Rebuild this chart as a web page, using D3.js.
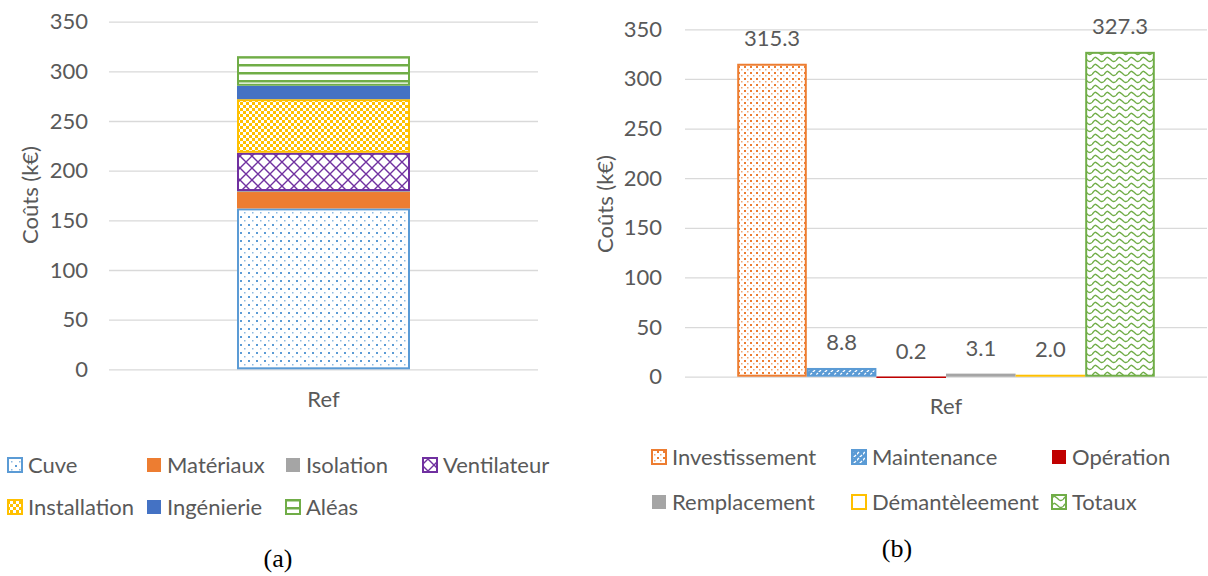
<!DOCTYPE html>
<html>
<head>
<meta charset="utf-8">
<script src="https://cdn.jsdelivr.net/npm/d3@7"></script>
<style>
  html, body { margin: 0; padding: 0; background: #fff; }
  svg { display: block; }
  text { font-family: Lato, "Open Sans", sans-serif; fill: #595959; }
  .caption { font-family: "Liberation Serif", "DejaVu Serif", serif; fill: #000; }
</style>
</head>
<body>
<svg id="chart" width="1208" height="576"></svg>
<script>
// --- data (a): stacked investment breakdown
const categories = ["Ref"];
const stackSeries = ["Cuve", "Matériaux", "Isolation", "Ventilateur", "Installation", "Ingénierie", "Aléas"];
const stackValues = [162, 16.5, 1, 38.5, 54, 13.5, 29.8];

// --- data (b): cost types
const costSeries = ["Investissement", "Maintenance", "Opération", "Remplacement", "Démantèleement", "Totaux"];
const costValues = [315.3, 8.8, 0.2, 3.1, 2.0, 327.3];

const yTicks = [0, 50, 100, 150, 200, 250, 300, 350];
const yDomain = [0, 350];

// styles
const stackColors = ["#5B9BD5", "#ED7D31", "#A5A5A5", "#7030A0", "#FFC000", "#4472C4", "#70AD47"];
const stackFills = ["url(#pDotsBlue)", "#ED7D31", "#A5A5A5", "url(#pTrellis)", "url(#pChecker)", "#4472C4", "url(#pHoriz)"];
const stackBorder = [true, false, false, true, true, false, true];

const costColors = ["#ED7D31", "#5B9BD5", "#C00000", "#A5A5A5", "#FFC000", "#70AD47"];
const costFills = ["url(#pDotsOrange)", "url(#pDiag)", "#C00000", "#A5A5A5", "#FFC000", "url(#pWave)"];
const costBorder = [true, true, false, false, false, true];

const svg = d3.select("#chart");
const defs = svg.append("defs");

// patterns
function pattern(id, w, h, draw) {
  const p = defs.append("pattern").attr("id", id)
    .attr("patternUnits", "userSpaceOnUse").attr("width", w).attr("height", h);
  draw(p);
}
pattern("pDotsBlue", 8, 8, p => {
  p.append("rect").attr("width", 8).attr("height", 8).attr("fill", "#fff");
  p.append("rect").attr("x", 0).attr("y", 0).attr("width", 2).attr("height", 2).attr("fill", "#5B9BD5");
  p.append("rect").attr("x", 4).attr("y", 4).attr("width", 1.5).attr("height", 1.5).attr("fill", "#5B9BD5").attr("opacity", 0.7);
});
pattern("pDotsOrange", 6, 6, p => {
  p.append("rect").attr("width", 6).attr("height", 6).attr("fill", "#fff");
  p.append("rect").attr("x", 0).attr("y", 0).attr("width", 2).attr("height", 2).attr("fill", "#ED7D31");
  p.append("rect").attr("x", 3).attr("y", 3).attr("width", 1.5).attr("height", 1.5).attr("fill", "#ED7D31").attr("opacity", 0.7);
});
pattern("pChecker", 6, 6, p => {
  p.append("rect").attr("width", 6).attr("height", 6).attr("fill", "#fff");
  p.append("rect").attr("width", 3).attr("height", 3).attr("fill", "#FFC000");
  p.append("rect").attr("x", 3).attr("y", 3).attr("width", 3).attr("height", 3).attr("fill", "#FFC000");
});
pattern("pTrellis", 12, 12, p => {
  p.append("rect").attr("width", 12).attr("height", 12).attr("fill", "#fff");
  p.append("path").attr("d", "M0,0L12,12M12,0L0,12").attr("stroke", "#7030A0").attr("stroke-width", 1.4).attr("fill", "none");
});
pattern("pHoriz", 8, 8, p => {
  p.append("rect").attr("width", 8).attr("height", 8).attr("fill", "#fff");
  p.append("rect").attr("y", 0).attr("width", 8).attr("height", 2.5).attr("fill", "#70AD47");
});
pattern("pDiag", 6, 6, p => {
  p.append("rect").attr("width", 6).attr("height", 6).attr("fill", "#5B9BD5");
  p.append("path").attr("d", "M-1,4L2,1M2,7L5,4").attr("stroke", "#fff").attr("stroke-width", 1.3);
});
pattern("pWave", 12, 7, p => {
  p.append("rect").attr("width", 12).attr("height", 7).attr("fill", "#fff");
  p.append("path").attr("d", "M0,4.5C3,0.5 3,0.5 6,3S9,6.5 12,4.5").attr("stroke", "#70AD47").attr("stroke-width", 1.4).attr("fill", "none");
});

// generic grid + y axis
function drawYAxis(g, y, x0, x1, pad) {
  const ax = g.append("g").attr("transform", `translate(${x0},0)`)
    .call(d3.axisLeft(y).tickValues(yTicks).tickSize(-(x1 - x0)).tickPadding(pad));
  ax.select(".domain").remove();
  ax.selectAll(".tick line").attr("stroke", "#d9d9d9").attr("stroke-width", 1.3);
  ax.selectAll(".tick text").attr("font-size", 22).attr("fill", "#595959")
    .style("font-family", "Lato, sans-serif");
}
function drawXAxis(g, x, y0, pad) {
  const ax = g.append("g").attr("transform", `translate(0,${y0})`)
    .call(d3.axisBottom(x).tickSize(0).tickPadding(pad));
  ax.select(".domain").remove();
  ax.selectAll(".tick text").attr("font-size", 22).attr("fill", "#595959")
    .style("font-family", "Lato, sans-serif");
}
function yTitle(g, cx, cy) {
  g.append("text").attr("transform", `translate(${cx},${cy}) rotate(-90)`)
    .attr("text-anchor", "middle").attr("dy", "0.35em").attr("font-size", 22)
    .text("Coûts (k€)");
}
function legend(g, names, fills, colors, borders, xs, ys, cols) {
  names.forEach((n, i) => {
    const lx = xs[i % cols], ly = ys[Math.floor(i / cols)];
    const item = g.append("g").attr("transform", `translate(${lx},${ly})`);
    item.append("rect").attr("x", 1).attr("y", -7).attr("width", 14).attr("height", 14)
      .attr("fill", fills[i])
      .attr("stroke", borders[i] ? colors[i] : "none").attr("stroke-width", 2);
    item.append("text").attr("x", 21).attr("dy", "0.35em").attr("font-size", 22).text(n);
  });
}

// ---------- chart (a)
const A = { x0: 109, x1: 538, top: 21.7, bottom: 369.3 };
const gA = svg.append("g");
const yA = d3.scaleLinear().domain(yDomain).range([A.bottom, A.top]);
const xA = d3.scaleBand().domain(categories).range([A.x0, A.x1]).padding(0);
drawYAxis(gA, yA, A.x0, A.x1, 21);
yTitle(gA, 30, 195);

const stackRow = [Object.fromEntries(stackSeries.map((s, i) => [s, stackValues[i]]))];
const stacked = d3.stack().keys(stackSeries)(stackRow);
const barWA = xA.bandwidth() / 2.48;
stacked.forEach((layer, i) => {
  const d = layer[0];
  const bx = xA(categories[0]) + (xA.bandwidth() - barWA) / 2;
  const bw = barWA, top = yA(d[1]), h = yA(d[0]) - yA(d[1]);
  if (stackBorder[i]) {
    gA.append("rect").attr("x", bx + 1).attr("y", top + 1).attr("width", bw - 2).attr("height", Math.max(0, h - 2))
      .attr("fill", stackFills[i]).attr("stroke", stackColors[i]).attr("stroke-width", 2);
  } else {
    gA.append("rect").attr("x", bx).attr("y", top).attr("width", bw).attr("height", h)
      .attr("fill", stackFills[i]);
  }
});
drawXAxis(gA, xA, A.bottom, 22);
legend(gA, stackSeries, stackFills, stackColors, stackBorder, [7, 146, 285, 422], [465, 507], 4);
svg.append("text").attr("class", "caption").attr("x", 278).attr("y", 567)
  .attr("text-anchor", "middle").attr("font-size", 26).text("(a)");

// ---------- chart (b)
const B = { x0: 685, x1: 1207, top: 29.3, bottom: 376.7 };
const gB = svg.append("g");
const yB = d3.scaleLinear().domain(yDomain).range([B.bottom, B.top]);
const xB = d3.scaleBand().domain(categories).range([B.x0, B.x1]).padding(0);
drawYAxis(gB, yB, B.x0, B.x1, 23);
yTitle(gB, 605, 204);

const groupW = xB.bandwidth() / 1.25;
const xB1 = d3.scaleBand().domain(costSeries)
  .range([xB(categories[0]) + (xB.bandwidth() - groupW) / 2, xB(categories[0]) + (xB.bandwidth() + groupW) / 2]);
costSeries.forEach((s, i) => {
  const v = costValues[i];
  const bx = xB1(s), bw = xB1.bandwidth(), top = yB(v), h = yB(0) - yB(v);
  if (costBorder[i]) {
    gB.append("rect").attr("x", bx + 1).attr("y", top + 1).attr("width", bw - 2).attr("height", Math.max(0.5, h - 2))
      .attr("fill", costFills[i]).attr("stroke", costColors[i]).attr("stroke-width", 2);
  } else {
    gB.append("rect").attr("x", bx).attr("y", top).attr("width", bw).attr("height", Math.max(1.5, h))
      .attr("fill", costFills[i]);
  }
  gB.append("text").attr("x", bx + bw / 2).attr("y", top - 18)
    .attr("text-anchor", "middle").attr("font-size", 22).text(d3.format(".1f")(v));
});
drawXAxis(gB, xB, B.bottom, 22);
const costLegendFills = costFills.slice();
costLegendFills[4] = "#fff";
const costLegendBorder = [true, true, false, false, true, true];
legend(gB, costSeries, costLegendFills, costColors, costLegendBorder, [651, 851, 1051], [457, 502], 3);
svg.append("text").attr("class", "caption").attr("x", 897).attr("y", 557)
  .attr("text-anchor", "middle").attr("font-size", 26).text("(b)");
</script>
</body>
</html>
